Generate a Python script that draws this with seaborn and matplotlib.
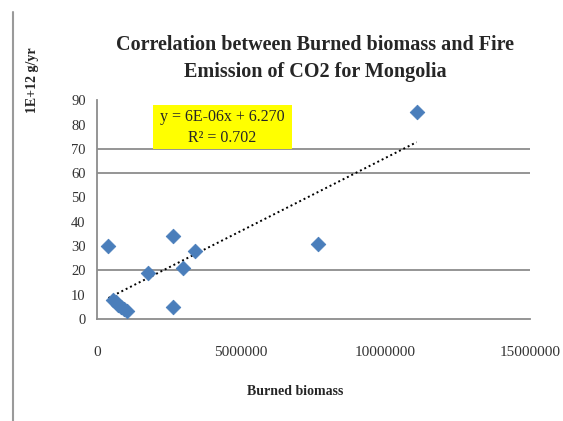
import numpy as np
import pandas as pd
import matplotlib
matplotlib.use("Agg")
import matplotlib.pyplot as plt
import seaborn as sns
from matplotlib.lines import Line2D
from matplotlib.patches import Rectangle

# Data
burned_biomass = [400000, 2630000, 3400000, 1770000, 2980000, 2630000,
                  550000, 650000, 750000, 850000, 950000, 1040000,
                  7650000, 11080000]
co2_emission = [30, 34, 28, 19, 21, 5,
                8, 7, 6, 5, 4, 3.5,
                31, 85]
trend_slope = 6e-06
trend_intercept = 6.270
r_squared = 0.702
x_ticks = [0, 5000000, 10000000, 15000000]
y_ticks = [0, 10, 20, 30, 40, 50, 60, 70, 80, 90]
grid_levels = [20, 60, 70]

df = pd.DataFrame({"Burned biomass": burned_biomass, "CO2": co2_emission})

sns.set_style("white")
plt.rcParams["font.family"] = ["Liberation Serif", "DejaVu Serif"]

fig = plt.figure(figsize=(5.63, 4.21), dpi=100)
ax = fig.add_axes([0.172, 0.242, 0.769, 0.520])

for g in grid_levels:
    ax.axhline(g, color="#8c8c8c", lw=1.3, zorder=1)

xs = np.array([min(burned_biomass), max(burned_biomass)])
ax.plot(xs, trend_slope * xs + trend_intercept, color="black", lw=1.4,
        ls=(0, (1, 1.5)), zorder=2)

sns.scatterplot(data=df, x="Burned biomass", y="CO2", ax=ax, marker="D",
                s=55, color="#4a7ebb", edgecolor="#4a7ebb", zorder=3,
                legend=False)

ax.set_xlim(0, 15000000)
ax.set_ylim(0, 90)
ax.set_xticks(x_ticks)
ax.set_xticklabels([str(v) for v in x_ticks])
ax.set_yticks(y_ticks)
ax.tick_params(axis="both", length=0, colors="#333333")
ax.tick_params(axis="x", pad=19, labelsize=11)
ax.tick_params(axis="y", pad=8, labelsize=10.5)
for s in ["top", "right"]:
    ax.spines[s].set_visible(False)
for s in ["left", "bottom"]:
    ax.spines[s].set_color("#8c8c8c")
    ax.spines[s].set_linewidth(1.3)

ax.set_xlabel("Burned biomass", fontsize=10, fontweight="bold")
ax.xaxis.set_label_coords(0.457, -0.30)
ax.set_ylabel("")

fig.text(0.058, 0.81, "1E+12 g/yr", rotation=90, fontsize=10,
         fontweight="bold", ha="center", va="center")

fig.text(0.56, 0.893, "Correlation between Burned biomass and Fire",
         fontsize=14.5, fontweight="bold", ha="center", va="center")
fig.text(0.56, 0.83, "Emission of CO2 for Mongolia",
         fontsize=14.5, fontweight="bold", ha="center", va="center")

ax.add_patch(Rectangle((0.129, 0.776), 0.321, 0.201, transform=ax.transAxes,
                       facecolor="#ffff00", edgecolor="none", zorder=4,
                       clip_on=False))
ax.text(0.289, 0.922, "y = 6E-06x + 6.270", transform=ax.transAxes,
        fontsize=11.5, ha="center", va="center", zorder=5)
ax.text(0.289, 0.826, "R\u00b2 = 0.702", transform=ax.transAxes,
        fontsize=11.5, ha="center", va="center", zorder=5)

fig.add_artist(Line2D([0.023, 0.023], [0.0, 0.972], color="#9a9a9a",
                      lw=1.5, transform=fig.transFigure))

fig.savefig("out.png", dpi=100)
